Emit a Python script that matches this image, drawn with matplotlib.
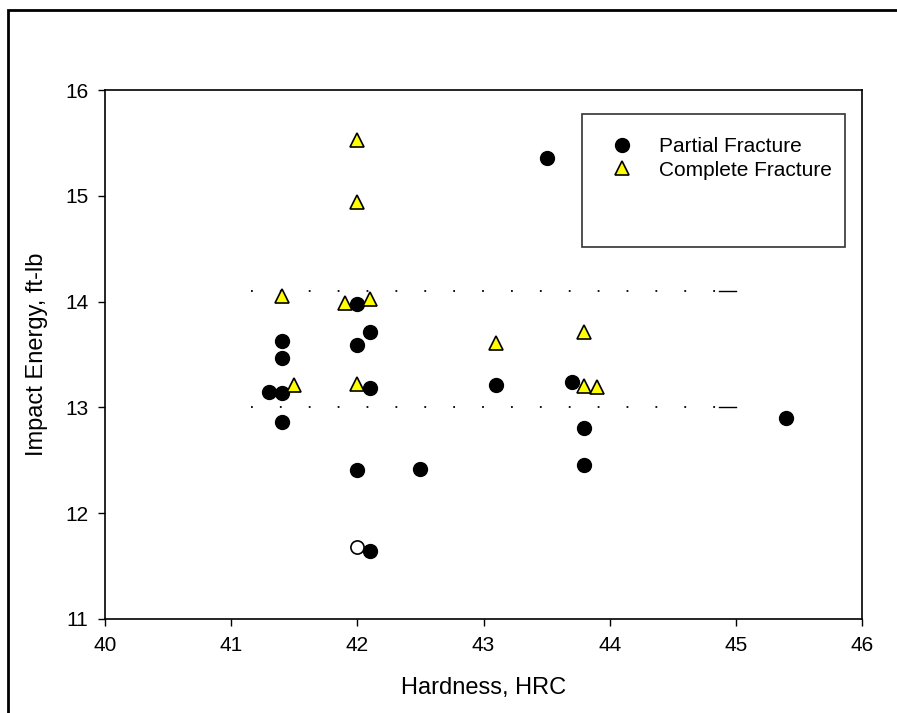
import matplotlib
matplotlib.use("Agg")
import matplotlib.pyplot as plt
from matplotlib.patches import Rectangle

plt.rcParams['font.family'] = ['Liberation Sans', 'DejaVu Sans']

# Partial fracture (filled circles)
partial_x = [41.3, 41.4, 41.4, 41.4, 41.4, 42.0, 42.0, 42.0, 42.1, 42.1, 42.1,
             42.5, 43.1, 43.5, 43.7, 43.8, 43.8, 45.4]
partial_y = [13.15, 13.14, 13.47, 13.63, 12.86, 13.98, 13.59, 12.41, 13.71, 13.18, 11.64,
             12.42, 13.21, 15.36, 13.24, 12.81, 12.46, 12.90]

# Open circle (no legend entry)
open_x = [42.0]
open_y = [11.68]

# Complete fracture (yellow triangles)
complete_x = [41.4, 41.5, 41.9, 42.0, 42.0, 42.0, 42.1, 43.1, 43.8, 43.8, 43.9]
complete_y = [14.05, 13.21, 13.99, 15.53, 14.94, 13.22, 14.02, 13.61, 13.71, 13.20, 13.19]

# Reference band lines
band_y = [13.0, 14.1]
band_x_start = 41.16
band_x_end = 45.0
band_dash_start = 44.87

fig = plt.figure(figsize=(8.97, 7.13), dpi=100)
ax = fig.add_axes([105/897, 1 - 619/713, (862 - 105)/897, (619 - 90)/713])

for yv in band_y:
    ax.plot([band_x_start, band_dash_start], [yv, yv], color='black', lw=1.3,
            linestyle=(0, (1.0, 15.0)), dash_capstyle='butt', zorder=1)
    ax.plot([band_dash_start, band_x_end], [yv, yv], color='black', lw=1.0, zorder=1)

ax.plot(partial_x, partial_y, linestyle='none', marker='o', markersize=10,
        markerfacecolor='black', markeredgecolor='black', label='Partial Fracture', zorder=3)
ax.plot(complete_x, complete_y, linestyle='none', marker='^', markersize=9.5,
        markerfacecolor='#FFFF00', markeredgecolor='black', markeredgewidth=1.2,
        label='Complete Fracture', zorder=4)
ax.plot(open_x, open_y, linestyle='none', marker='o', markersize=9.5,
        markerfacecolor='white', markeredgecolor='black', markeredgewidth=1.2, zorder=2)

ax.set_xlim(40, 46)
ax.set_ylim(11, 16)
ax.set_xticks([40, 41, 42, 43, 44, 45, 46])
ax.set_yticks([11, 12, 13, 14, 15, 16])
ax.tick_params(direction='out', length=5, width=1, labelsize=15, pad=7,
               top=False, right=False)
for sp in ax.spines.values():
    sp.set_linewidth(1.2)

ax.set_xlabel('Hardness, HRC', fontsize=17, labelpad=16)
ax.set_ylabel('Impact Energy, ft-lb', fontsize=17, labelpad=12)

# legend box
x0 = (581.7 - 105) / 757
x1 = (845 - 105) / 757
y1 = (619 - 114.3) / 529
y0 = (619 - 246.7) / 529
ax.add_patch(Rectangle((x0, y0), x1 - x0, y1 - y0, transform=ax.transAxes,
                       facecolor='white', edgecolor='#333333', lw=1.2, zorder=5))
leg = ax.legend(loc='upper left', bbox_to_anchor=(x0 + 0.022, y1 - 0.028), frameon=False,
                fontsize=15, handletextpad=1.0, labelspacing=0.2, borderaxespad=0,
                handlelength=1.5)
leg.set_zorder(6)

# outer frame
fig.add_artist(Rectangle((7.5/897, -0.1), 1.2, 1.1 - 10/713, transform=fig.transFigure,
                         facecolor='none', edgecolor='black', lw=2))

fig.savefig('out.png', dpi=100)
